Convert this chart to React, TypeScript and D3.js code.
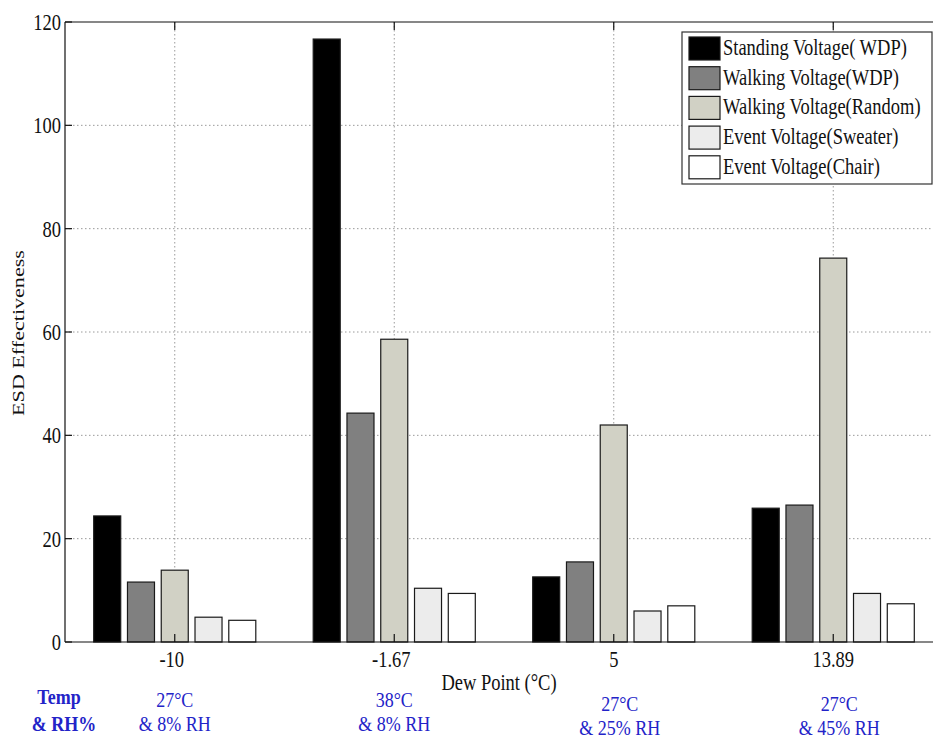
import React from "react";
import * as d3 from "d3";

const categories = ["-10", "-1.67", "5", "13.89"];
const conditionLine1 = ["27°C", "38°C", "27°C", "27°C"];
const conditionLine2 = ["& 8% RH", "& 8% RH", "& 25% RH", "& 45% RH"];
const seriesNames = [
  "Standing Voltage( WDP)",
  "Walking Voltage(WDP)",
  "Walking Voltage(Random)",
  "Event Voltage(Sweater)",
  "Event Voltage(Chair)",
];
const standingWDP = [24.4, 116.7, 12.6, 25.9];
const walkingWDP = [11.6, 44.3, 15.5, 26.5];
const walkingRandom = [13.9, 58.6, 42.0, 74.3];
const eventSweater = [4.8, 10.4, 6.0, 9.4];
const eventChair = [4.2, 9.4, 7.0, 7.4];
const seriesValues = [standingWDP, walkingWDP, walkingRandom, eventSweater, eventChair];
const seriesColors = ["#000000", "#808080", "#d1d1c5", "#ececec", "#ffffff"];
const yTicks = [0, 20, 40, 60, 80, 100, 120];

const W = 933;
const H = 740;
const left = 65;
const top = 22;
const bottom = 642;
const SY = 1.3;
const FONT = "'Liberation Serif', 'Times New Roman', serif";

function T(props: {
  x: number;
  y: number;
  size?: number;
  anchor?: string;
  fill?: string;
  bold?: boolean;
  rotate?: number;
  sy?: number;
  children: React.ReactNode;
}) {
  const { x, y, size = 18.5, anchor = "middle", fill = "#111", bold, rotate, sy = SY, children } = props;
  return (
    <text
      transform={`translate(${x},${y}) scale(1,${sy})${rotate ? ` rotate(${rotate})` : ""}`}
      fontSize={size}
      fontFamily={FONT}
      textAnchor={anchor}
      fill={fill}
      fontWeight={bold ? "bold" : "normal"}
    >
      {children}
    </text>
  );
}

export default function App() {
  const x = d3.scaleLinear().domain([0.5, 4.5]).range([left, 943]);
  const y = d3.scaleLinear().domain([0, 120]).range([bottom, top]);
  const n = seriesValues.length;
  const groupW = Math.min(0.8, n / (n + 1.5));
  const step = groupW / n;
  const barW = step * 0.8;

  const gridColor = "#9a9a9a";
  const blue = "#2323c8";
  const bsy = 1.15;

  return (
    <svg
      width={W}
      height={H}
      style={{ position: "absolute", left: 0, top: 0, background: "#fff" }}
    >
      <rect x={0} y={0} width={W} height={H} fill="#fff" />
      {yTicks.slice(1, -1).map((t) => (
        <line
          key={"hg" + t}
          x1={left}
          x2={W}
          y1={y(t)}
          y2={y(t)}
          stroke={gridColor}
          strokeWidth={1}
          strokeDasharray="1.5,2.5"
        />
      ))}
      {categories.map((c, i) => (
        <line
          key={"vg" + c}
          x1={x(i + 1)}
          x2={x(i + 1)}
          y1={top}
          y2={bottom}
          stroke={gridColor}
          strokeWidth={1}
          strokeDasharray="1.5,2.5"
        />
      ))}
      {seriesValues.map((vals, j) =>
        vals.map((v, i) => {
          const cx = i + 1 + (j - (n - 1) / 2) * step;
          const x0 = x(cx - barW / 2);
          const x1 = x(cx + barW / 2);
          return (
            <rect
              key={`b${j}-${i}`}
              x={x0}
              y={y(v)}
              width={x1 - x0}
              height={y(0) - y(v)}
              fill={seriesColors[j]}
              stroke="#1a1a1a"
              strokeWidth={1.2}
            />
          );
        })
      )}
      <line x1={left} x2={W} y1={top} y2={top} stroke="#111" strokeWidth={1.2} />
      <line x1={left} x2={W} y1={bottom} y2={bottom} stroke="#111" strokeWidth={1.2} />
      <line x1={left} x2={left} y1={top} y2={bottom} stroke="#111" strokeWidth={1.2} />
      {yTicks.map((t) => (
        <g key={"yt" + t}>
          <line x1={left} x2={left + 7} y1={y(t)} y2={y(t)} stroke="#111" strokeWidth={1.2} />
          <T x={left - 4} y={y(t) + 8} anchor="end">
            {t}
          </T>
        </g>
      ))}
      {categories.map((c, i) => (
        <g key={"xt" + c}>
          <line x1={x(i + 1)} x2={x(i + 1)} y1={top} y2={top + 8} stroke="#111" strokeWidth={1.2} />
          <line x1={x(i + 1)} x2={x(i + 1)} y1={bottom} y2={bottom - 8} stroke="#111" strokeWidth={1.2} />
          <T x={x(i + 1) - (c.startsWith("-") ? 3 : 0)} y={667}>
            {c}
          </T>
        </g>
      ))}
      <T x={499} y={690}>
        Dew Point (°C)
      </T>
      <T x={24} y={333} rotate={-90} size={17}>
        ESD Effectiveness
      </T>
      <T x={59} y={704} fill={blue} bold size={18} sy={bsy}>
        Temp
      </T>
      <T x={64} y={731} fill={blue} bold size={18} sy={bsy}>
        & RH%
      </T>
      {categories.map((c, i) => {
        const dy = i >= 2 ? 4 : 0;
        return (
          <g key={"cond" + c}>
            <T x={x(i + 1) + (i >= 2 ? 6 : 0)} y={707 + dy} fill={blue} size={18} sy={bsy}>
              {conditionLine1[i]}
            </T>
            <T x={x(i + 1) + (i >= 2 ? 6 : 0)} y={731 + dy} fill={blue} size={18} sy={bsy}>
              {conditionLine2[i]}
            </T>
          </g>
        );
      })}
      <rect x={682} y={32} width={250} height={152} fill="#fff" stroke="#333" strokeWidth={1.2} />
      {seriesNames.map((name, j) => {
        const rowY = 37 + j * 29.7;
        return (
          <g key={"lg" + j}>
            <rect
              x={689}
              y={rowY}
              width={31}
              height={23}
              fill={seriesColors[j]}
              stroke="#1a1a1a"
              strokeWidth={1.2}
            />
            <T x={723} y={rowY + 18} anchor="start">
              {name}
            </T>
          </g>
        );
      })}
    </svg>
  );
}
